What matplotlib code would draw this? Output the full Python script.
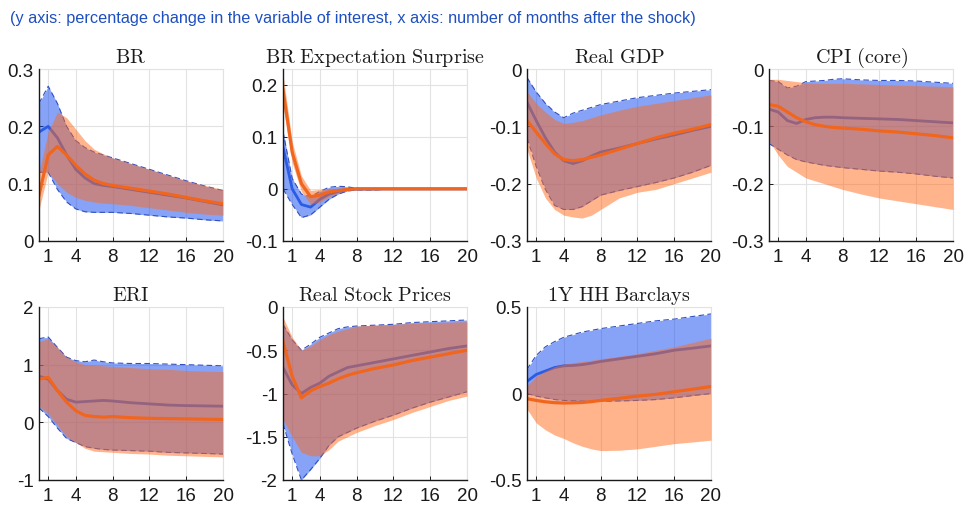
import matplotlib
matplotlib.use("Agg")
import matplotlib.pyplot as plt
import numpy as np

plt.rcParams['mathtext.fontset'] = 'cm'
plt.rcParams['font.family'] = ['Liberation Sans', 'DejaVu Sans']

months = [0, 1, 2, 3, 4, 5, 6, 7, 8, 10, 12, 14, 16, 18, 20]

titles = ["BR", "BR Expectation Surprise", "Real GDP", "CPI (core)",
          "ERI", "Real Stock Prices", "1Y HH Barclays"]

# ---- BR ----
br_blue = [0.19, 0.20, 0.18, 0.15, 0.125, 0.11, 0.10, 0.097, 0.095, 0.09, 0.085, 0.08, 0.075, 0.069, 0.063]
br_blue_up = [0.24, 0.27, 0.24, 0.20, 0.175, 0.163, 0.155, 0.15, 0.145, 0.135, 0.125, 0.115, 0.105, 0.096, 0.088]
br_blue_lo = [0.12, 0.12, 0.09, 0.068, 0.056, 0.051, 0.05, 0.05, 0.05, 0.048, 0.045, 0.042, 0.04, 0.037, 0.035]
br_orng = [0.08, 0.15, 0.165, 0.15, 0.132, 0.117, 0.106, 0.10, 0.097, 0.092, 0.087, 0.082, 0.076, 0.07, 0.065]
br_orng_up = [0.12, 0.19, 0.225, 0.215, 0.195, 0.175, 0.16, 0.152, 0.145, 0.135, 0.125, 0.115, 0.105, 0.097, 0.09]
br_orng_lo = [0.055, 0.12, 0.10, 0.085, 0.076, 0.071, 0.068, 0.066, 0.065, 0.062, 0.058, 0.054, 0.05, 0.047, 0.045]

# ---- BR Expectation Surprise ----
bes_blue = [0.08, 0.0, -0.03, -0.035, -0.02, -0.01, -0.005, -0.001, 0, 0, 0, 0, 0, 0, 0]
bes_blue_up = [0.11, 0.02, -0.01, -0.015, -0.005, 0.003, 0.005, 0.004, 0.001, 0, 0, 0, 0, 0, 0]
bes_blue_lo = [0.0, -0.03, -0.055, -0.05, -0.035, -0.02, -0.01, -0.004, -0.002, -0.002, 0, 0, 0, 0, 0]
bes_orng = [0.19, 0.07, 0.01, -0.015, -0.012, -0.006, -0.003, -0.001, 0, 0, 0, 0, 0, 0, 0]
bes_orng_up = [0.22, 0.09, 0.025, -0.003, -0.001, 0.001, 0.001, 0.001, 0.0005, 0, 0, 0, 0, 0, 0]
bes_orng_lo = [0.16, 0.05, -0.005, -0.03, -0.025, -0.015, -0.008, -0.003, -0.001, 0, 0, 0, 0, 0, 0]

# ---- Real GDP ----
gdp_blue = [-0.058, -0.09, -0.12, -0.145, -0.16, -0.165, -0.16, -0.152, -0.145, -0.138, -0.13, -0.122, -0.115, -0.107, -0.10]
gdp_blue_up = [-0.015, -0.04, -0.06, -0.075, -0.085, -0.077, -0.072, -0.067, -0.062, -0.056, -0.05, -0.046, -0.042, -0.039, -0.036]
gdp_blue_lo = [-0.12, -0.17, -0.21, -0.238, -0.245, -0.245, -0.24, -0.23, -0.22, -0.212, -0.205, -0.198, -0.19, -0.18, -0.168]
gdp_orng = [-0.09, -0.11, -0.13, -0.148, -0.158, -0.16, -0.158, -0.154, -0.15, -0.14, -0.13, -0.12, -0.112, -0.105, -0.097]
gdp_orng_up = [-0.04, -0.06, -0.075, -0.088, -0.095, -0.093, -0.09, -0.085, -0.08, -0.072, -0.065, -0.06, -0.055, -0.05, -0.045]
gdp_orng_lo = [-0.14, -0.19, -0.225, -0.245, -0.255, -0.258, -0.26, -0.255, -0.245, -0.225, -0.215, -0.21, -0.20, -0.19, -0.18]

# ---- CPI (core) ----
cpi_blue = [-0.07, -0.075, -0.09, -0.095, -0.088, -0.085, -0.084, -0.084, -0.085, -0.086, -0.087, -0.088, -0.09, -0.092, -0.094]
cpi_blue_up = [-0.02, -0.022, -0.033, -0.03, -0.022, -0.021, -0.02, -0.018, -0.017, -0.019, -0.02, -0.02, -0.021, -0.023, -0.025]
cpi_blue_lo = [-0.13, -0.14, -0.15, -0.158, -0.162, -0.165, -0.168, -0.17, -0.172, -0.175, -0.178, -0.18, -0.183, -0.187, -0.19]
cpi_orng = [-0.062, -0.065, -0.075, -0.085, -0.092, -0.097, -0.10, -0.102, -0.103, -0.105, -0.108, -0.11, -0.113, -0.116, -0.12]
cpi_orng_up = [-0.018, -0.018, -0.02, -0.022, -0.024, -0.025, -0.025, -0.025, -0.025, -0.026, -0.027, -0.028, -0.029, -0.03, -0.031]
cpi_orng_lo = [-0.125, -0.15, -0.17, -0.18, -0.19, -0.195, -0.20, -0.205, -0.21, -0.218, -0.225, -0.23, -0.235, -0.24, -0.245]

# ---- ERI ----
eri_blue = [0.8, 0.75, 0.55, 0.4, 0.35, 0.36, 0.37, 0.38, 0.37, 0.34, 0.32, 0.30, 0.29, 0.285, 0.28]
eri_blue_up = [1.45, 1.48, 1.3, 1.13, 1.07, 1.05, 1.08, 1.05, 1.03, 1.02, 1.02, 1.01, 1.0, 0.99, 0.98]
eri_blue_lo = [0.25, 0.1, -0.1, -0.28, -0.35, -0.42, -0.45, -0.47, -0.48, -0.49, -0.5, -0.52, -0.53, -0.54, -0.55]
eri_orng = [0.75, 0.78, 0.55, 0.35, 0.2, 0.12, 0.1, 0.09, 0.1, 0.08, 0.07, 0.065, 0.06, 0.055, 0.05]
eri_orng_up = [1.4, 1.45, 1.3, 1.13, 1.05, 1.0, 0.99, 0.98, 0.97, 0.95, 0.93, 0.92, 0.9, 0.89, 0.88]
eri_orng_lo = [0.28, 0.15, -0.05, -0.25, -0.35, -0.45, -0.5, -0.51, -0.52, -0.54, -0.55, -0.57, -0.58, -0.59, -0.6]

# ---- Real Stock Prices ----
rsp_blue = [-0.7, -0.9, -1.0, -0.93, -0.88, -0.8, -0.75, -0.7, -0.68, -0.64, -0.6, -0.56, -0.52, -0.48, -0.45]
rsp_blue_up = [-0.2, -0.38, -0.5, -0.43, -0.35, -0.3, -0.25, -0.23, -0.22, -0.21, -0.2, -0.18, -0.17, -0.16, -0.15]
rsp_blue_lo = [-1.35, -1.7, -2.0, -1.88, -1.75, -1.6, -1.5, -1.45, -1.4, -1.32, -1.25, -1.17, -1.1, -1.04, -0.98]
rsp_orng = [-0.4, -0.8, -1.05, -0.97, -0.92, -0.88, -0.83, -0.79, -0.76, -0.71, -0.67, -0.62, -0.58, -0.54, -0.5]
rsp_orng_up = [-0.12, -0.35, -0.5, -0.45, -0.38, -0.32, -0.28, -0.25, -0.22, -0.21, -0.2, -0.19, -0.18, -0.175, -0.17]
rsp_orng_lo = [-1.3, -1.5, -1.68, -1.72, -1.72, -1.65, -1.55, -1.5, -1.45, -1.37, -1.3, -1.22, -1.15, -1.08, -1.03]

# ---- 1Y HH Barclays ----
hh_blue = [0.07, 0.11, 0.13, 0.15, 0.16, 0.162, 0.167, 0.175, 0.185, 0.2, 0.215, 0.23, 0.25, 0.262, 0.275]
hh_blue_up = [0.14, 0.22, 0.27, 0.3, 0.325, 0.34, 0.355, 0.365, 0.375, 0.39, 0.405, 0.42, 0.43, 0.445, 0.46]
hh_blue_lo = [0.0, -0.015, -0.025, -0.035, -0.04, -0.042, -0.044, -0.045, -0.045, -0.043, -0.04, -0.035, -0.025, -0.012, 0.0]
hh_orng = [-0.03, -0.04, -0.048, -0.053, -0.055, -0.054, -0.052, -0.047, -0.04, -0.028, -0.015, -0.005, 0.01, 0.025, 0.04]
hh_orng_up = [0.045, 0.1, 0.13, 0.155, 0.17, 0.178, 0.185, 0.192, 0.2, 0.215, 0.23, 0.25, 0.27, 0.295, 0.32]
hh_orng_lo = [-0.09, -0.17, -0.21, -0.24, -0.26, -0.285, -0.305, -0.32, -0.33, -0.328, -0.32, -0.305, -0.29, -0.28, -0.27]

panels = [
    (br_blue, br_blue_up, br_blue_lo, br_orng, br_orng_up, br_orng_lo),
    (bes_blue, bes_blue_up, bes_blue_lo, bes_orng, bes_orng_up, bes_orng_lo),
    (gdp_blue, gdp_blue_up, gdp_blue_lo, gdp_orng, gdp_orng_up, gdp_orng_lo),
    (cpi_blue, cpi_blue_up, cpi_blue_lo, cpi_orng, cpi_orng_up, cpi_orng_lo),
    (eri_blue, eri_blue_up, eri_blue_lo, eri_orng, eri_orng_up, eri_orng_lo),
    (rsp_blue, rsp_blue_up, rsp_blue_lo, rsp_orng, rsp_orng_up, rsp_orng_lo),
    (hh_blue, hh_blue_up, hh_blue_lo, hh_orng, hh_orng_up, hh_orng_lo),
]

ylims = [(0, 0.3), (-0.1, 0.23), (-0.3, 0), (-0.3, 0), (-1, 2), (-2, 0), (-0.5, 0.5)]
yticks = [[0, 0.1, 0.2, 0.3], [-0.1, 0, 0.1, 0.2], [-0.3, -0.2, -0.1, 0], [-0.3, -0.2, -0.1, 0],
          [-1, 0, 1, 2], [-2, -1.5, -1, -0.5, 0], [-0.5, 0, 0.5]]
ytick_labels = [["0", "0.1", "0.2", "0.3"], ["-0.1", "0", "0.1", "0.2"],
                ["-0.3", "-0.2", "-0.1", "0"], ["-0.3", "-0.2", "-0.1", "0"],
                ["-1", "0", "1", "2"], ["-2", "-1.5", "-1", "-0.5", "0"], ["-0.5", "0", "0.5"]]
xticks = [1, 4, 8, 12, 16, 20]

W, H = 964, 506
fig = plt.figure(figsize=(W / 100, H / 100), dpi=100)

col_left = [39, 283, 527, 769]
col_w = 184
rows = [(70, 242), (308, 481)]

blue_fill = '#1148f0'
orng_fill = '#ff6a1a'
blue_line = '#2a5ce6'
orng_line = '#f0661e'
blue_edge = '#3050c0'

for i, data in enumerate(panels):
    r, c = divmod(i, 4)
    top, bot = rows[r]
    ax = fig.add_axes([col_left[c] / W, 1 - bot / H, col_w / W, (bot - top) / H])
    b, bu, bl, o, ou, ol = data
    ax.fill_between(months, bl, bu, color=blue_fill, alpha=0.5, lw=0, zorder=2)
    ax.plot(months, bu, color=blue_edge, lw=0.8, ls=(0, (5, 3)), zorder=3)
    ax.plot(months, bl, color=blue_edge, lw=0.8, ls=(0, (5, 3)), zorder=3)
    ax.plot(months, b, color=blue_line, lw=2.0, zorder=3)
    ax.fill_between(months, ol, ou, color=orng_fill, alpha=0.5, lw=0, zorder=4)
    ax.plot(months, o, color=orng_line, lw=2.3, zorder=5)
    ax.set_xlim(0, 20)
    ax.set_ylim(*ylims[i])
    ax.set_xticks(xticks)
    ax.set_yticks(yticks[i])
    ax.set_yticklabels(ytick_labels[i])
    ax.grid(True, color='#e2e2e2', lw=0.8, zorder=0)
    ax.set_axisbelow(True)
    for s in ['top', 'right']:
        ax.spines[s].set_color('#e2e2e2')
        ax.spines[s].set_linewidth(0.8)
    for s in ['left', 'bottom']:
        ax.spines[s].set_color('#1a1a1a')
        ax.spines[s].set_linewidth(1.0)
        ax.spines[s].set_zorder(6)
    ax.tick_params(direction='in', length=3, width=0.7, labelsize=13.5,
                   colors='#1a1a1a', pad=4)
    ax.tick_params(axis='x', pad=5)
    ax.set_title(r'$\mathrm{' + titles[i].replace(' ', r'\ ') + '}$',
                 fontsize=14.5, pad=5, color='#1a1a1a')

fig.text(10 / W, 1 - 19 / H,
         "(y axis: percentage change in the variable of interest, x axis: number of months after the shock)",
         fontsize=11.7, color='#1e4fc0', va='center', ha='left')

fig.savefig('out.png', dpi=100)
